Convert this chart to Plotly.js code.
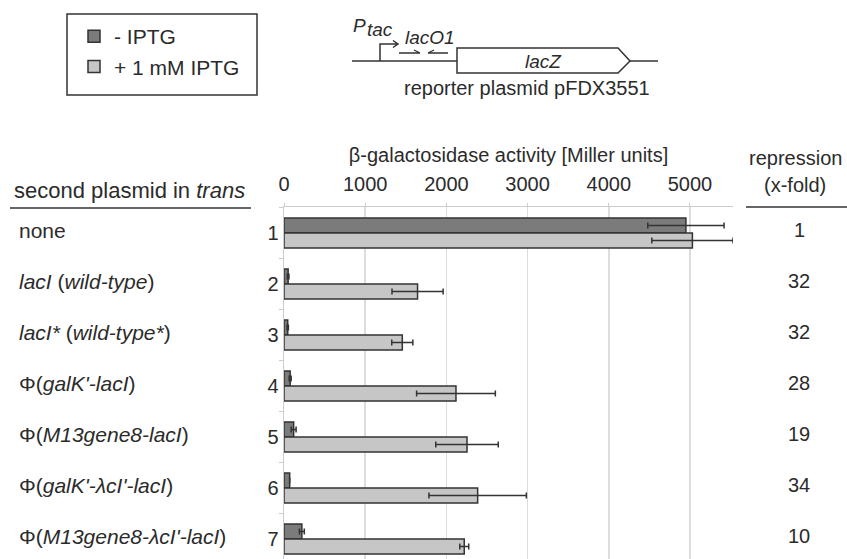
<!DOCTYPE html>
<html>
<head>
<meta charset="utf-8">
<script src="https://cdn.plot.ly/plotly-3.0.1.min.js"></script>
<style>html,body{margin:0;padding:0;background:#fff;}#chart{width:847px;height:559px;}</style>
</head>
<body>
<div id="chart"></div>
<script>
// ---- data ----
const categories = ["none", "lacI (wild-type)", "lacI* (wild-type*)", "Φ(galK'-lacI)", "Φ(M13gene8-lacI)", "Φ(galK'-λcI'-lacI)", "Φ(M13gene8-λcI'-lacI)"];
const labelsHtml = ["none", "<i>lacI</i> (<i>wild-type</i>)", "<i>lacI*</i> (<i>wild-type*</i>)", "Φ(<i>galK'-lacI</i>)", "Φ(<i>M13gene8-lacI</i>)", "Φ(<i>galK'-λcI'-lacI</i>)", "Φ(<i>M13gene8-λcI'-lacI</i>)"];
const rowNumbers = ["1", "2", "3", "4", "5", "6", "7"];
const minusIPTG = [4950, 51, 46, 76, 119, 70, 220];
const minusErr = [470, 10, 8, 12, 30, 0, 30];
const plusIPTG = [5030, 1645, 1457, 2118, 2254, 2385, 2220];
const plusErr = [500, 315, 130, 485, 385, 600, 55];
const repression = [1, 32, 32, 28, 19, 34, 10];
const xTicks = [0, 1000, 2000, 3000, 4000, 5000];
const seriesNames = ["- IPTG", "+ 1 mM IPTG"];

// ---- layout helpers (pixel -> paper) ----
const W = 847, H = 559, ML = 284, MR = 114, MT = 207, MB = 0;
const PW = W - ML - MR, PH = H - MT - MB;
const px = x => (x - ML) / PW;
const py = y => (H - MB - y) / PH;
const FONT = "Liberation Sans, Arial, sans-serif";
const TXT = "#2b2b2b";
const LINE = "#333333";

const traces = [
  {type: "bar", orientation: "h", name: seriesNames[0], legendgroup: "a", y: categories, x: minusIPTG,
   marker: {color: "#7b7b7b", line: {color: LINE, width: 1.5}},
   error_x: {type: "data", array: minusErr, visible: true, color: LINE, thickness: 1.5, width: 3}},
  {type: "bar", orientation: "h", name: seriesNames[1], legendgroup: "b", y: categories, x: plusIPTG,
   marker: {color: "#c6c6c6", line: {color: LINE, width: 1.5}},
   error_x: {type: "data", array: plusErr, visible: true, color: LINE, thickness: 1.5, width: 3}}
];

const annotations = [];
categories.forEach((c, i) => {
  annotations.push({xref: "paper", yref: "y", x: px(17), y: c, xanchor: "left", yanchor: "middle", yshift: 3,
    text: labelsHtml[i], showarrow: false, font: {size: 21, color: TXT, family: FONT}});
  annotations.push({xref: "paper", yref: "y", x: px(799), y: c, xanchor: "center", yanchor: "middle", yshift: 3,
    text: String(repression[i]), showarrow: false, font: {size: 20, color: TXT, family: FONT}});
});
function pann(text, x, y, opts) {
  annotations.push(Object.assign({xref: "paper", yref: "paper", x: px(x), y: py(y), text: text, showarrow: false,
    xanchor: "center", yanchor: "middle", font: {size: 20, color: TXT, family: FONT}}, opts || {}));
}
pann("second plasmid in <i>trans</i>", 12, 190, {xanchor: "left", font: {size: 22, color: TXT, family: FONT}});
pann("repression", 795, 158);
pann("(x-fold)", 795, 185);
pann("<i>P</i>", 359, 25, {font: {size: 19, color: TXT, family: FONT}});
pann("<i>tac</i>", 380, 30, {font: {size: 19, color: TXT, family: FONT}});
pann("<i>lacO1</i>", 430, 37, {font: {size: 19, color: TXT, family: FONT}});
pann("<i>lacZ</i>", 543, 61, {font: {size: 19, color: TXT, family: FONT}});
pann("reporter plasmid pFDX3551", 527, 88);

function seg(cmds) {
  return cmds.map(c => c[0] + px(c[1]) + "," + py(c[2])).join(" ");
}
const shapes = [
  // legend frame
  {type: "rect", xref: "paper", yref: "paper", x0: px(67), x1: px(257), y0: py(14), y1: py(95), line: {color: LINE, width: 1.5}},
  // header rules
  {type: "line", xref: "paper", yref: "paper", x0: px(10), x1: px(251), y0: py(208), y1: py(208), line: {color: LINE, width: 1.5}},
  {type: "line", xref: "paper", yref: "paper", x0: px(746), x1: px(847), y0: py(207), y1: py(207), line: {color: LINE, width: 1.5}},
  // plasmid backbone
  {type: "line", xref: "paper", yref: "paper", x0: px(352), x1: px(457), y0: py(61), y1: py(61), line: {color: LINE, width: 1.5}},
  {type: "line", xref: "paper", yref: "paper", x0: px(630), x1: px(658), y0: py(61), y1: py(61), line: {color: LINE, width: 1.5}},
  // lacZ gene arrow box
  {type: "path", xref: "paper", yref: "paper", path: seg([["M",457,48],["L",618,48],["L",630,61],["L",618,73],["L",457,73]]) + " Z",
   line: {color: LINE, width: 1.5}, fillcolor: "#ffffff"},
  // promoter arrow
  {type: "path", xref: "paper", yref: "paper", path: seg([["M",380,61],["L",380,44],["L",398,44],["M",393,40.5],["L",398,44],["L",393,47.5]]),
   line: {color: LINE, width: 1.5}},
  // operator half-arrows
  {type: "path", xref: "paper", yref: "paper", path: seg([["M",399,53],["L",420,53],["L",414,50]]), line: {color: LINE, width: 1.3}},
  {type: "path", xref: "paper", yref: "paper", path: seg([["M",448,53],["L",428,53],["L",434,50]]), line: {color: LINE, width: 1.3}}
];

const layout = {
  width: W, height: H,
  margin: {l: ML, r: MR, t: MT, b: MB, pad: 0},
  paper_bgcolor: "#ffffff", plot_bgcolor: "#ffffff",
  font: {family: FONT, size: 20, color: TXT},
  barmode: "group", bargap: 0.41, bargroupgap: 0,
  showlegend: true,
  legend: {x: px(74), y: py(16), xanchor: "left", yanchor: "top", borderwidth: 0,
           bgcolor: "rgba(0,0,0,0)", font: {size: 21, color: TXT, family: FONT}, tracegroupgap: 12, traceorder: "normal"},
  xaxis: {side: "top", range: [0, 5530], tickvals: xTicks, ticktext: xTicks.map(String),
          showgrid: true, gridcolor: "#dddddd", gridwidth: 1.5, zeroline: false,
          showline: true, linecolor: "#cccccc", linewidth: 1.5, ticks: "outside", ticklen: 3, tickcolor: "#cccccc",
          ticklabelstandoff: 4, tickfont: {size: 20, color: TXT},
          title: {text: "β-galactosidase activity [Miller units]", standoff: 4, font: {size: 20, color: TXT}}},
  yaxis: {type: "category", categoryorder: "array", categoryarray: categories,
          range: [6 + 20/51, -26/51], tickvals: categories, ticktext: rowNumbers,
          showgrid: false, zeroline: false, showline: true, linecolor: "#cccccc", linewidth: 1.5,
          ticks: "outside", tickson: "boundaries", ticklen: 4, tickcolor: "#cccccc", tickfont: {size: 20, color: TXT}},
  annotations: annotations,
  shapes: shapes
};

Plotly.newPlot("chart", traces, layout, {displayModeBar: false, staticPlot: true});
</script>
</body>
</html>
